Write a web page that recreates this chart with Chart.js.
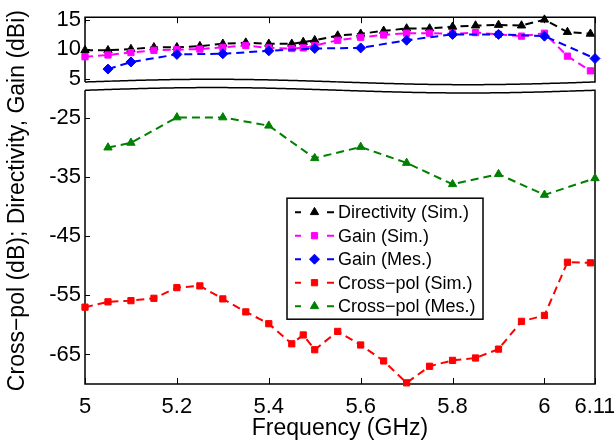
<!DOCTYPE html>
<html lang="en">
<head>
<meta charset="UTF-8" />
<title>Directivity, Gain and Cross-pol vs Frequency</title>
<script src="https://cdn.jsdelivr.net/npm/chart.js"></script>
<style>
  html, body { margin: 0; padding: 0; background: #fff; }
  #wrap { width: 614px; height: 442px; }
</style>
</head>
<body>
<div id="wrap"><canvas id="patternChart" width="614" height="442"></canvas></div>
<script>
// frequency points (GHz)
const freqSim = [5, 5.05, 5.1, 5.15, 5.2, 5.25, 5.3, 5.35, 5.4, 5.45, 5.475, 5.5,
                 5.55, 5.6, 5.65, 5.7, 5.75, 5.8, 5.85, 5.9, 5.95, 6, 6.05, 6.1];
const freqMes = [5.05, 5.1, 5.2, 5.3, 5.4, 5.5, 5.6, 5.7, 5.8, 5.9, 6, 6.11];

// dBi
const directivitySim = [9.8, 9.8, 10.0, 10.3, 10.3, 10.5, 10.9, 11.1, 10.9, 10.9, 11.2, 11.5,
                        12.3, 12.6, 13.1, 13.5, 13.5, 13.8, 14.0, 14.1, 14.0, 15.0, 12.9, 12.6];
const gainSim = [8.7, 9.0, 9.4, 9.8, 9.9, 10.0, 10.3, 10.6, 10.2, 10.1, 10.2, 10.6,
                 11.5, 12.0, 12.4, 12.7, 12.7, 12.6, 12.8, 12.5, 12.2, 12.7, 8.8, 6.3];
const gainMes = [6.6, 7.8, 9.1, 9.2, 9.7, 10.1, 10.2, 11.5, 12.5, 12.5, 12.2, 8.4];

// dB
const xpolSim = [-57.0, -56.1, -55.9, -55.5, -53.7, -53.4, -55.6, -57.8, -59.8, -63.2, -61.7, -64.2,
                 -61.1, -63.4, -66.1, -69.8, -67.0, -66.0, -65.6, -64.1, -59.4, -58.4, -49.4, -49.5];
const xpolMes = [-30.0, -29.2, -24.9, -24.9, -26.3, -31.8, -29.9, -32.6, -36.2, -34.5, -38.0, -35.2];

const xTicks = [5, 5.2, 5.4, 5.6, 5.8, 6, 6.11];
const topTicks = [5, 10, 15];
const bottomTicks = [-65, -55, -45, -35, -25];

const FONT = '"Liberation Sans", Arial, Helvetica, sans-serif';

function series(label, xs, ys, color, marker, radius, axis, order) {
  return {
    label: label,
    data: xs.map((x, i) => ({ x: x, y: ys[i] })),
    yAxisID: axis,
    order: order,
    borderColor: color,
    backgroundColor: color,
    pointBackgroundColor: color,
    pointBorderColor: color,
    borderWidth: 2,
    borderDash: [8, 5],
    pointStyle: marker,
    pointRadius: radius,
    pointHoverRadius: radius,
    pointBorderWidth: 1,
    tension: 0,
    fill: false,
    clip: false
  };
}

const datasets = [
  series('Directivity (Sim.)', freqSim, directivitySim, '#000000', 'triangle', 4.8, 'yTop', 5),
  series('Gain (Sim.)', freqSim, gainSim, '#ff00ff', 'rect', 4.4, 'yTop', 4),
  series('Gain (Mes.)', freqMes, gainMes, '#0000ff', 'rectRot', 5, 'yTop', 3),
  series('Cross\u2212pol (Sim.)', freqSim, xpolSim, '#ff0000', 'rect', 4.4, 'yBot', 2),
  series('Cross\u2212pol (Mes.)', freqMes, xpolMes, '#008000', 'triangle', 4.8, 'yBot', 1)
];

const tickFont = { family: FONT, size: 22 };
const plain = v => String(v);

// frame with the axis break, inward tick marks
const breakAxis = {
  id: 'breakAxis',
  beforeDatasetsDraw(chart) {
    const { ctx, chartArea: a, scales } = chart;
    const L = a.left, R = a.right;
    const split = scales.yTop.bottom;
    const wave = x => 2.7 * Math.sin(2 * Math.PI * (x - L) / (R - L));
    const upper = x => split - 4 - wave(x);
    const lower = x => split + 4.3 - wave(x);

    ctx.save();
    // white gap between the two panels
    ctx.fillStyle = '#ffffff';
    ctx.beginPath();
    ctx.moveTo(L - 1, upper(L));
    for (let x = L; x <= R; x += 2) ctx.lineTo(x, upper(x));
    ctx.lineTo(R + 1, upper(R));
    ctx.lineTo(R + 1, lower(R));
    for (let x = R; x >= L; x -= 2) ctx.lineTo(x, lower(x));
    ctx.lineTo(L - 1, lower(L));
    ctx.closePath();
    ctx.fill();

    ctx.strokeStyle = '#000000';
    ctx.lineWidth = 1.5;
    // top panel
    ctx.beginPath();
    ctx.moveTo(L, upper(L));
    ctx.lineTo(L, a.top);
    ctx.lineTo(R, a.top);
    ctx.lineTo(R, upper(R));
    for (let x = R; x >= L; x -= 2) ctx.lineTo(x, upper(x));
    ctx.lineTo(L, upper(L));
    ctx.stroke();
    // bottom panel
    ctx.beginPath();
    ctx.moveTo(L, lower(L));
    ctx.lineTo(L, a.bottom);
    ctx.lineTo(R, a.bottom);
    ctx.lineTo(R, lower(R));
    for (let x = R; x >= L; x -= 2) ctx.lineTo(x, lower(x));
    ctx.lineTo(L, lower(L));
    ctx.stroke();

    // tick marks
    ctx.lineWidth = 1;
    ctx.beginPath();
    xTicks.forEach(v => {
      const px = Math.round(scales.x.getPixelForValue(v)) + 0.5;
      ctx.moveTo(px, a.bottom); ctx.lineTo(px, a.bottom - 6);
      ctx.moveTo(px, a.top); ctx.lineTo(px, a.top + 6);
    });
    topTicks.forEach(v => {
      const py = Math.round(scales.yTop.getPixelForValue(v)) + 0.5;
      ctx.moveTo(L, py); ctx.lineTo(L + 5, py);
    });
    bottomTicks.forEach(v => {
      const py = Math.round(scales.yBot.getPixelForValue(v)) + 0.5;
      ctx.moveTo(L, py); ctx.lineTo(L + 5, py);
    });
    ctx.stroke();
    ctx.restore();
  },
  afterDraw(chart) {
    const { ctx, chartArea: a } = chart;
    ctx.save();

    // shared y title across both panels
    ctx.fillStyle = '#000000';
    ctx.font = '23px ' + FONT;
    ctx.textAlign = 'center';
    ctx.textBaseline = 'middle';
    ctx.translate(18, (a.top + a.bottom) / 2);
    ctx.rotate(-Math.PI / 2);
    ctx.fillText('Cross\u2212pol (dB); Directivity, Gain (dBi)', 0, 0);
    ctx.setTransform(1, 0, 0, 1, 0, 0);

    // legend box
    const bx = a.left + 202, by = a.top + 181, bw = 196, bh = 121;
    ctx.fillStyle = '#ffffff';
    ctx.fillRect(bx, by, bw, bh);
    ctx.strokeStyle = '#000000';
    ctx.lineWidth = 1.5;
    ctx.strokeRect(bx, by, bw, bh);

    ctx.font = '18px ' + FONT;
    ctx.textAlign = 'left';
    chart.data.datasets.forEach((ds, i) => {
      const y = by + 14 + i * 23.5;
      ctx.strokeStyle = ds.borderColor;
      ctx.fillStyle = ds.borderColor;
      ctx.lineWidth = 2;
      ctx.beginPath();
      ctx.moveTo(bx + 8, y); ctx.lineTo(bx + 14, y);
      ctx.moveTo(bx + 40, y); ctx.lineTo(bx + 47, y);
      ctx.stroke();
      ctx.lineWidth = 1;
      Chart.helpers.drawPoint(ctx, {
        pointStyle: ds.pointStyle, radius: ds.pointRadius, borderWidth: 1, rotation: 0
      }, bx + 27.5, y);
      ctx.fillStyle = '#000000';
      ctx.fillText(ds.label, bx + 51, y + 1);
    });
    ctx.restore();
  }
};

new Chart(document.getElementById('patternChart'), {
  type: 'line',
  data: { datasets: datasets },
  plugins: [breakAxis],
  options: {
    responsive: false,
    animation: false,
    devicePixelRatio: 1,
    layout: { padding: { left: 0, right: 19, top: 16, bottom: 0 }, autoPadding: false },
    plugins: { legend: { display: false }, tooltip: { enabled: false } },
    scales: {
      x: {
        type: 'linear', min: 5, max: 6.11,
        grid: { display: false, drawTicks: false },
        border: { display: false },
        ticks: { font: tickFont, color: '#000', padding: 10, autoSkip: false, maxRotation: 0, callback: plain },
        afterBuildTicks: s => { s.ticks = xTicks.map(v => ({ value: v })); },
        afterFit: s => { s.height = 58; s.paddingLeft = 0; s.paddingRight = 0; },
        title: { display: true, text: 'Frequency (GHz)', color: '#000', font: { family: FONT, size: 23 }, padding: 0 }
      },
      yBot: {
        type: 'linear', position: 'left', stack: 'split', stackWeight: 299,
        min: -70, max: -19.58,
        grid: { display: false, drawTicks: false },
        border: { display: false },
        ticks: { font: tickFont, color: '#000', padding: 4, autoSkip: false, callback: plain },
        afterBuildTicks: s => { s.ticks = bottomTicks.map(v => ({ value: v })); },
        afterFit: s => { s.width = 85; }
      },
      yTop: {
        type: 'linear', position: 'left', stack: 'split', stackWeight: 69,
        min: 3.73, max: 15.42,
        grid: { display: false, drawTicks: false },
        border: { display: false },
        ticks: { font: tickFont, color: '#000', padding: 4, autoSkip: false, callback: plain },
        afterBuildTicks: s => { s.ticks = topTicks.map(v => ({ value: v })); },
        afterFit: s => { s.width = 85; }
      }
    }
  }
});
</script>
</body>
</html>
